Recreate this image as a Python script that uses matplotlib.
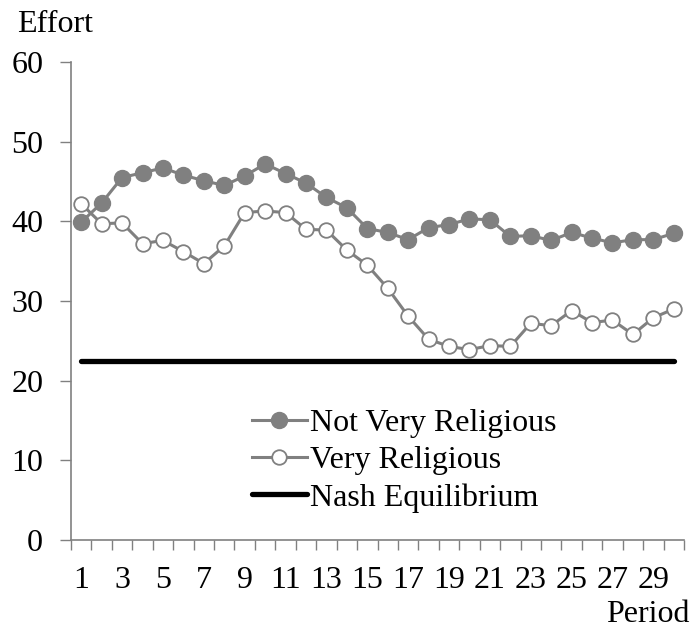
import numpy as np
import matplotlib.pyplot as plt

periods = np.arange(1, 31)
not_very_religious = [39.9, 42.3, 45.5, 46.1, 46.7, 45.8, 45.1, 44.5, 45.7, 47.2,
                      46.0, 44.8, 43.0, 41.7, 39.1, 38.6, 37.7, 39.2, 39.6, 40.3,
                      40.2, 38.1, 38.2, 37.6, 38.6, 37.9, 37.3, 37.7, 37.7, 38.5]
very_religious = [42.2, 39.7, 39.8, 37.2, 37.6, 36.2, 34.7, 36.9, 41.1, 41.3,
                  41.1, 39.0, 38.9, 36.4, 34.5, 31.6, 28.1, 25.2, 24.3, 23.9,
                  24.4, 24.3, 27.2, 26.9, 28.8, 27.3, 27.6, 25.8, 27.9, 29.0]
nash = 22.5
tick_labels = [str(p) for p in range(1, 31, 2)]

plt.rcParams['font.family'] = ['Liberation Serif', 'DejaVu Serif']
plt.rcParams['font.size'] = 23

fig = plt.figure(figsize=(6.98, 6.31), dpi=100)
ax = fig.add_axes([71/698, 1 - 540/631, 613/698, 478/631])

gray = '#808080'
ax.plot(periods, not_very_religious, color=gray, lw=2.2, marker='o', ms=11.5,
        mfc=gray, mec=gray, label='Not Very Religious', zorder=3)
ax.plot(periods, very_religious, color=gray, lw=2.2, marker='o', ms=10.5,
        mfc='white', mec=gray, mew=1.3, label='Very Religious', zorder=3)
ax.plot([periods[0], periods[-1]], [nash, nash], color='black', lw=3.8,
        solid_capstyle='round', label='Nash Equilibrium', zorder=2)

ax.set_xlim(0.5, 30.5)
ax.set_ylim(0, 60)
ax.set_yticks(range(0, 61, 10))
ax.set_xticks(np.arange(0.5, 31, 1))
ax.set_xticklabels([])
ax.set_xticks(range(1, 31, 2), minor=True)
ax.set_xticklabels(tick_labels, minor=True)
ax.tick_params(axis='x', which='major', length=7, width=1, color=gray, direction='out')
ax.tick_params(axis='x', which='minor', length=0, pad=19)
ax.tick_params(axis='y', length=8, width=1, color=gray, pad=12)

for s in ['top', 'right']:
    ax.spines[s].set_visible(False)
for s in ['left', 'bottom']:
    ax.spines[s].set_color(gray)
    ax.spines[s].set_linewidth(1.2)

fig.text(17/698, 1 - 32/631, 'Effort', ha='left', va='baseline')
fig.text(690/698, 1 - 622/631, 'Period', ha='right', va='baseline')

leg = ax.legend(loc='upper left', bbox_to_anchor=(252/698, 1 - 409/631),
                bbox_transform=fig.transFigure, frameon=False, borderpad=0,
                borderaxespad=0, handlelength=1.72, handletextpad=0.1,
                labelspacing=0.24)

fig.savefig('out.png', dpi=100)
